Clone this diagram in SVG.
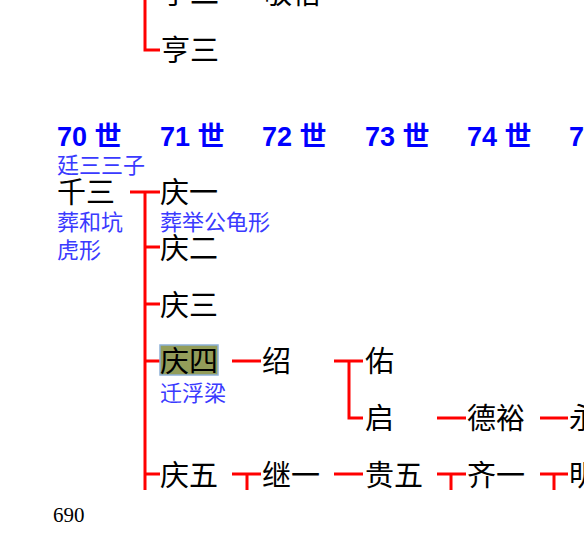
<svg xmlns="http://www.w3.org/2000/svg" width="584" height="549" viewBox="0 0 584 549">
<style>
.nm{font-family:"Noto Sans CJK SC",sans-serif;font-size:29px;fill:#000}
.an{font-family:"Noto Sans CJK SC",sans-serif;font-size:22px;fill:#3a3aff}
.hd{font-family:"Liberation Sans","Noto Sans CJK SC",sans-serif;font-size:27px;font-weight:bold;fill:#0000ff}
.pg{font-family:"Liberation Serif",serif;font-size:21px;fill:#000}
.ln{stroke:#ff0000;stroke-width:3;fill:none}
</style>
<rect width="584" height="549" fill="#fff"/>
<g id="headers">
<text class="hd" x="57" y="146">70 世</text>
<text class="hd" x="160" y="146">71 世</text>
<text class="hd" x="262" y="146">72 世</text>
<text class="hd" x="365" y="146">73 世</text>
<text class="hd" x="467" y="146">74 世</text>
<text class="hd" x="569" y="146">75 世</text>
</g>
<g id="connectors">
<path class="ln" d="M145,0 V50 H160"/>
<path class="ln" d="M130,192 H160 M145,192 V490 M145,247 H160 M145,304 H160 M145,361 H160 M145,474 H160"/>
<path class="ln" d="M232,361 H261"/>
<path class="ln" d="M334,361 H363 M349,361 V418 H363"/>
<path class="ln" d="M437,418 H466"/>
<path class="ln" d="M540,418 H568"/>
<path class="ln" d="M232,474 H261 M247,474 V490"/>
<path class="ln" d="M334,474 H363"/>
<path class="ln" d="M437,474 H466 M451,474 V490"/>
<path class="ln" d="M540,474 H568 M554,474 V490"/>
</g>
<g id="node-top1"><text class="nm" x="161" y="4">亨二</text></g>
<g id="node-top2"><text class="nm" x="263" y="4">敬梧</text></g>
<g id="node-hengsan"><text class="nm" x="161" y="61">亨三</text></g>
<g id="node-qiansan">
<text class="an" x="57" y="173">廷三三子</text>
<text class="nm" x="57" y="203">千三</text>
<text class="an" x="57" y="230">葬和坑</text>
<text class="an" x="57" y="258">虎形</text>
</g>
<g id="node-qingyi">
<text class="nm" x="160" y="203">庆一</text>
<text class="an" x="160" y="230">葬举公龟形</text>
</g>
<g id="node-qinger"><text class="nm" x="160" y="259">庆二</text></g>
<g id="node-qingsan"><text class="nm" x="160" y="316">庆三</text></g>
<g id="node-qingsi">
<rect x="160" y="345" width="58" height="30" fill="#939d5a" stroke="#8cb0d6" stroke-width="1.5"/>
<text class="nm" x="160" y="372" fill="#1e2a14">庆四</text>
<text class="an" x="160" y="401">迁浮梁</text>
</g>
<g id="node-qingwu"><text class="nm" x="160" y="486">庆五</text></g>
<g id="node-shao"><text class="nm" x="262" y="372">绍</text></g>
<g id="node-you"><text class="nm" x="365" y="372">佑</text></g>
<g id="node-qi"><text class="nm" x="365" y="429">启</text></g>
<g id="node-deyu"><text class="nm" x="467" y="429">德裕</text></g>
<g id="node-yong"><text class="nm" x="569" y="429">永</text></g>
<g id="node-jiyi"><text class="nm" x="262" y="486">继一</text></g>
<g id="node-guiwu"><text class="nm" x="365" y="486">贵五</text></g>
<g id="node-qiyi"><text class="nm" x="467" y="486">齐一</text></g>
<g id="node-ming"><text class="nm" x="569" y="486">明</text></g>
<text class="pg" x="53" y="522">690</text>
</svg>
